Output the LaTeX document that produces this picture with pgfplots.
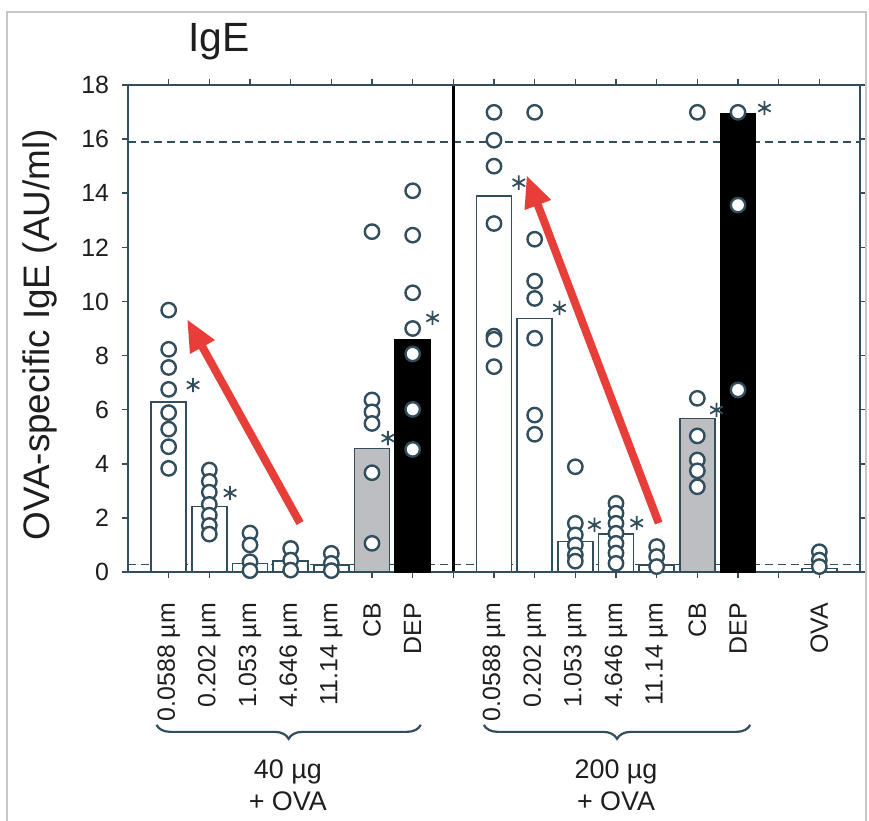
\documentclass[border=0pt]{standalone}
\usepackage{fontspec}
\setmainfont{Liberation Sans}
\usepackage{pgfplots}
\pgfplotsset{compat=1.18}
\usetikzlibrary{arrows.meta,decorations.pathreplacing}
\definecolor{lc}{RGB}{50,78,92}
\definecolor{cbg}{RGB}{188,190,194}
\definecolor{arr}{RGB}{232,62,58}
\definecolor{txt}{RGB}{30,30,30}
\begin{document}
\begin{tikzpicture}
\begin{axis}[
  at={(0,0)}, anchor=south west,
  scale only axis, width=366bp, height=243.5bp,
  xmin=-1, xmax=17, ymin=0, ymax=18,
  clip=false,
  axis line style={lc, line width=0.8bp},
  tick style={lc, line width=0.8bp},
  tick align=outside, major tick length=3bp,
  ytick={0,2,...,18},
  xtick={0,...,16},
  xticklabels={0.0588 µm,0.202 µm,1.053 µm,4.646 µm,11.14 µm,CB,DEP,{},0.0588 µm,0.202 µm,1.053 µm,4.646 µm,11.14 µm,CB,DEP,{},OVA},
  xticklabel style={rotate=90, anchor=east, font=\fontsize{12.5}{15}\selectfont, text=txt},
  xticklabel shift=9bp,
  yticklabel style={font=\fontsize{12.5}{15}\selectfont, text=txt},
  yticklabel shift=3bp,
  /pgf/number format/assume math mode=true,
  title={IgE},
  title style={at={(0.124,1.064)}, anchor=center, font=\fontsize{20.5}{24}\selectfont, text=txt},
  ylabel={OVA-specific IgE (AU/ml)},
  ylabel style={at={(axis description cs:-0.12,0.487)}, anchor=center, font=\fontsize{18.5}{22}\selectfont, text=txt},
]
% reference dashed lines
\addplot[lc, line width=0.8bp, dash pattern=on 4bp off 2.5bp] coordinates {(-1,15.9) (17,15.9)};
\addplot[lc, line width=0.8bp, dash pattern=on 4bp off 2.5bp] coordinates {(-1,0.28) (17,0.28)};
% bars
\addplot[ybar, bar width=0.86, fill=white, draw=lc, line width=0.7bp] coordinates {
  (0,6.29) (1,2.41) (2,0.32) (3,0.4) (4,0.26)
  (8,13.9) (9,9.36) (10,1.12) (11,1.4) (12,0.26) (16,0.14)};
\addplot[ybar, bar width=0.86, fill=cbg, draw=lc, line width=0.7bp] coordinates {(5,4.57) (13,5.68)};
\addplot[ybar, bar width=0.86, fill=black, draw=black, line width=0.7bp] coordinates {(6,8.57) (14,16.93)};
% separator
\addplot[black, line width=1.5bp] coordinates {(7,0.05) (7,17.95)};
% individual values
\addplot[only marks, mark=*, mark size=3.6bp, mark options={fill=white, draw=lc, line width=1.2bp}] coordinates {
  (0,9.68) (0,8.23) (0,7.56) (0,6.75) (0,5.89) (0,5.28) (0,4.63) (0,3.83)
  (1,3.77) (1,3.35) (1,2.95) (1,2.5) (1,2.1) (1,1.72) (1,1.4)
  (2,1.44) (2,1.0) (2,0.38) (2,0.05)
  (3,0.87) (3,0.44) (3,0.07)
  (4,0.69) (4,0.32) (4,0.05)
  (5,12.58) (5,6.36) (5,5.92) (5,5.49) (5,3.67) (5,1.06)
  (6,14.09) (6,12.45) (6,10.32) (6,9.0) (6,8.06) (6,6.01) (6,4.53)
  (8,16.99) (8,15.96) (8,15.0) (8,12.88) (8,8.72) (8,8.6) (8,7.59)
  (9,16.99) (9,12.3) (9,10.75) (9,10.11) (9,8.64) (9,5.8) (9,5.09)
  (10,3.89) (10,1.8) (10,1.37) (10,1.0) (10,0.63) (10,0.4)
  (11,2.54) (11,2.17) (11,1.8) (11,1.43) (11,1.06) (11,0.7) (11,0.32)
  (12,0.94) (12,0.57) (12,0.2)
  (13,16.99) (13,6.42) (13,5.03) (13,4.14) (13,3.74) (13,3.15)
  (14,16.99) (14,13.56) (14,6.73)
  (16,0.75) (16,0.44) (16,0.2)};
% significance asterisks
\addplot[only marks, mark=asterisk, mark size=3.6bp, lc, line width=0.9bp] coordinates {
  (0.6,6.91) (1.51,2.92) (5.39,4.95) (6.49,9.39)
  (8.61,14.39) (9.61,9.76) (10.47,1.74) (11.51,1.81) (13.47,5.99) (14.65,17.15)};
% red arrows
\addplot[arr, line width=4bp, -{Triangle[length=16bp,width=13bp]}] coordinates {(3.23,1.81) (0.45,9.35)};
\addplot[arr, line width=4bp, -{Triangle[length=16bp,width=13bp]}] coordinates {(12.05,1.81) (8.8,14.67)};
% braces and group labels
\draw[lc, line width=1.1bp, decorate, decoration={brace, mirror, amplitude=7bp}] (axis cs:-0.3,-5.65) -- (axis cs:6.2,-5.65);
\draw[lc, line width=1.1bp, decorate, decoration={brace, mirror, amplitude=7bp}] (axis cs:7.75,-5.65) -- (axis cs:14.3,-5.65);
\node[align=center, font=\fontsize{13.5}{16}\selectfont, text=txt] at (axis cs:2.93,-7.87) {40 µg\\+ OVA};
\node[align=center, font=\fontsize{13.5}{16}\selectfont, text=txt] at (axis cs:11.0,-7.87) {200 µg\\+ OVA};
\end{axis}
% scan frame
\draw[gray!45, line width=1bp] (-60.5bp,-130bp) -- (-60.5bp,280bp) -- (369bp,280bp) -- (369bp,-130bp);
\pgfresetboundingbox
\path (-64bp,-124.5bp) rectangle (370.5bp,286bp);
\end{tikzpicture}
\end{document}
